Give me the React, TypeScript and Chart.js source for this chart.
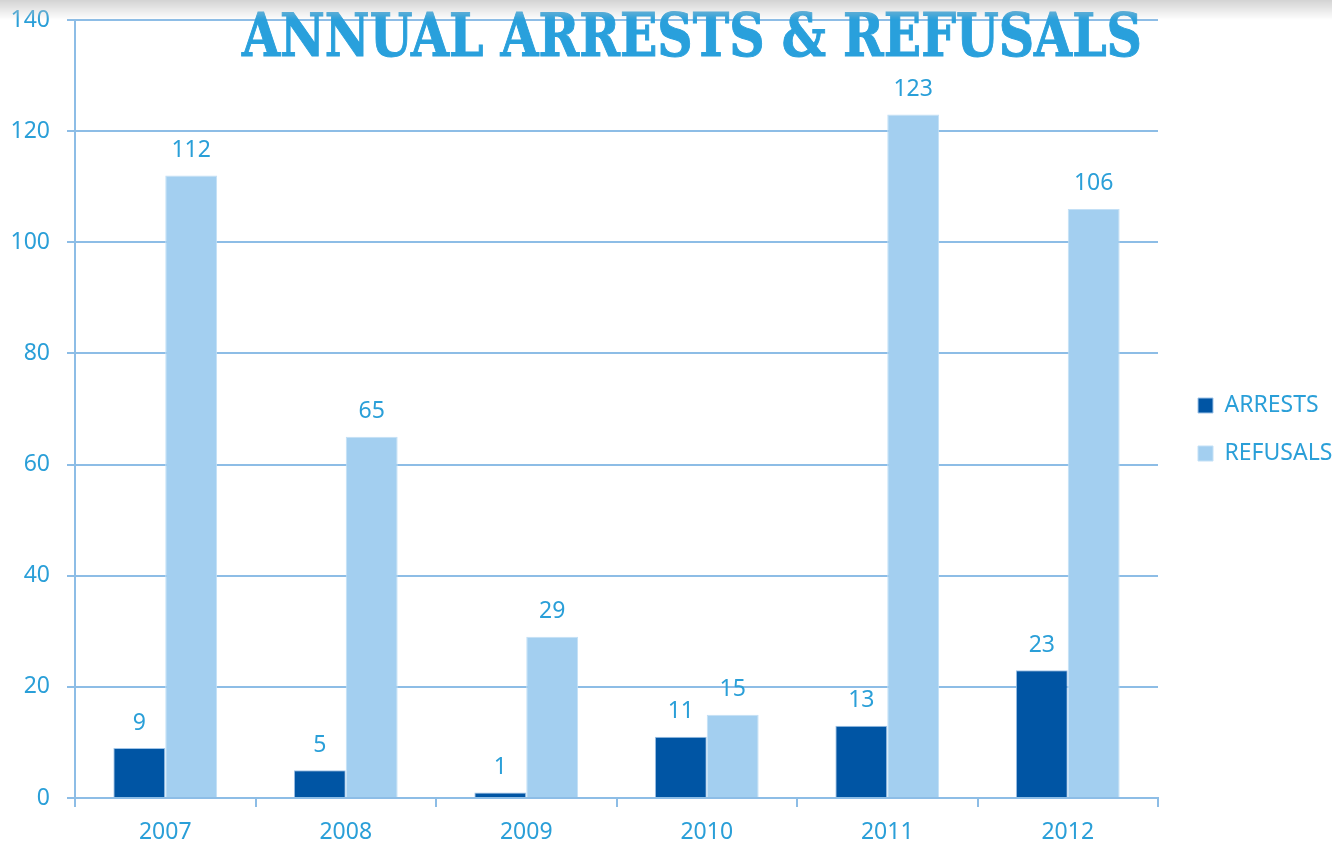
import React, { useEffect, useRef } from "react";
import { Chart, registerables } from "chart.js";

Chart.register(...registerables);

const years = ["2007", "2008", "2009", "2010", "2011", "2012"];
const arrests = [9, 5, 1, 11, 13, 23];
const refusals = [112, 65, 29, 15, 123, 106];
const yTicks = { min: 0, max: 140, step: 20 };
const titleText = "ANNUAL ARRESTS & REFUSALS";

const TEXT_BLUE = "#2a9fd8";
const GRID_BLUE = "#8dbde6";
const FONT = "'Noto Sans', 'Open Sans', sans-serif";
const FS = 23;
const TITLE_FONT = "bold 59px 'DejaVu Serif', serif";

const valueLabels = {
  id: "valueLabels",
  afterDatasetsDraw(chart: any) {
    const ctx = chart.ctx;
    ctx.save();
    ctx.font = `${FS}px ${FONT}`;
    ctx.fillStyle = TEXT_BLUE;
    ctx.textAlign = "center";
    ctx.textBaseline = "middle";
    chart.data.datasets.forEach((ds: any, i: number) => {
      const meta = chart.getDatasetMeta(i);
      meta.data.forEach((el: any, j: number) => {
        ctx.fillText(String(ds.data[j]), el.x, el.y - 25);
      });
    });
    ctx.restore();
  },
};

const bigTitle = {
  id: "bigTitle",
  afterDraw(chart: any) {
    const ctx = chart.ctx;
    ctx.save();
    ctx.font = TITLE_FONT;
    ctx.fillStyle = "#29a0dc";
    ctx.strokeStyle = "#29a0dc";
    ctx.lineWidth = 1.0;
    ctx.lineJoin = "miter";
    ctx.textBaseline = "alphabetic";
    ctx.textAlign = "left";
    const w = ctx.measureText(titleText).width;
    const target = 900;
    ctx.translate(242, 56);
    ctx.scale(target / w, 1);
    ctx.fillText(titleText, 0, 0);
    ctx.strokeText(titleText, 0, 0);
    ctx.restore();
  },
};

const legendTweak = {
  id: "legendTweak",
  beforeInit(chart: any) {
    const legend = chart.legend;
    if (legend) {
      const orig = legend.fit;
      legend.fit = function () {
        orig.call(this);
        this.width = 174;
      };
    }
  },
  beforeDraw(chart: any) {
    const legend = chart.legend;
    if (legend) {
      legend.left = chart.chartArea.right + 15;
      legend.right = legend.left + 174;
      legend.top = 17;
      legend.bottom = chart.height - 3;
    }
  },
};

export default function App() {
  const ref = useRef<HTMLCanvasElement | null>(null);
  useEffect(() => {
    document.body.style.margin = "0";
    let chart: any = null;
    let cancelled = false;
    const make = () => {
      if (cancelled || !ref.current) return;
      chart = new Chart(ref.current, {
        type: "bar",
        data: {
          labels: years,
          datasets: [
            {
              label: "ARRESTS",
              data: arrests,
              backgroundColor: "#0055a4",
              borderColor: "#9fc4e8",
              borderWidth: 1,
              categoryPercentage: 0.575,
              barPercentage: 1.0,
            },
            {
              label: "REFUSALS",
              data: refusals,
              backgroundColor: "#a3cff0",
              borderColor: "#c3e0f6",
              borderWidth: 1,
              categoryPercentage: 0.575,
              barPercentage: 1.0,
            },
          ],
        },
        options: {
          responsive: false,
          animation: false,
          layout: { padding: { top: 20, right: 0, left: 0, bottom: 0 } },
          plugins: {
            title: { display: false },
            tooltip: { enabled: false },
            legend: {
              position: "right",
              labels: {
                boxWidth: 15,
                boxHeight: 15,
                padding: 25,
                color: TEXT_BLUE,
                font: { family: FONT, size: FS },
              },
            },
          },
          scales: {
            x: {
              grid: {
                offset: true,
                drawOnChartArea: false,
                drawTicks: true,
                tickLength: 9,
                color: GRID_BLUE,
                lineWidth: 2,
              },
              border: { color: GRID_BLUE, width: 2 },
              ticks: {
                color: TEXT_BLUE,
                font: { family: FONT, size: FS },
                padding: 12,
              },
              afterFit(scale: any) {
                scale.height = 47;
                scale.paddingLeft = 0;
                scale.paddingRight = 0;
              },
            },
            y: {
              min: yTicks.min,
              max: yTicks.max,
              grid: {
                color: GRID_BLUE,
                lineWidth: 2,
                tickLength: 8,
              },
              border: { color: GRID_BLUE, width: 2 },
              ticks: {
                stepSize: yTicks.step,
                color: TEXT_BLUE,
                font: { family: FONT, size: FS },
                padding: 17,
              },
              afterFit(scale: any) {
                scale.width = 75;
                scale.paddingTop = 0;
                scale.paddingBottom = 0;
              },
            },
          },
        },
        plugins: [valueLabels, bigTitle, legendTweak],
      } as any);
    };
    const fonts: any = (document as any).fonts;
    if (fonts && fonts.load) {
      Promise.all([
        fonts.load(`${FS}px 'Noto Sans'`),
        fonts.load(TITLE_FONT),
      ])
        .catch(() => null)
        .then(make);
    } else {
      make();
    }
    return () => {
      cancelled = true;
      if (chart) chart.destroy();
    };
  }, []);

  return (
    <div style={{ position: "relative", width: 1332, height: 845, background: "#fff" }}>
      <canvas ref={ref} width={1332} height={845} />
      <div
        style={{
          position: "absolute",
          left: 0,
          top: 0,
          width: 1332,
          height: 20,
          pointerEvents: "none",
          background: "linear-gradient(rgba(200,200,200,0.8), rgba(255,255,255,0))",
        }}
      />
    </div>
  );
}
